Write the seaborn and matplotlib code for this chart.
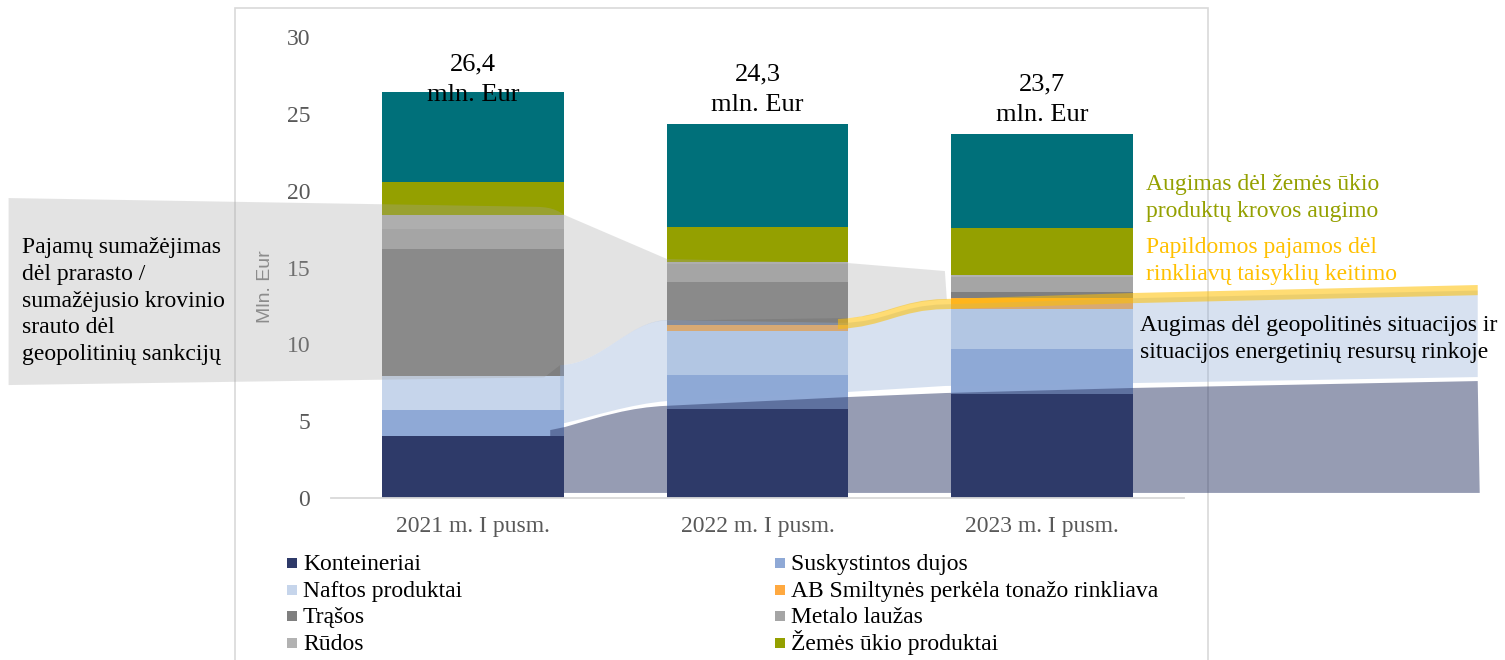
import numpy as np
import pandas as pd
import matplotlib
matplotlib.use("Agg")
import matplotlib.pyplot as plt
import seaborn as sns
from matplotlib.path import Path
from matplotlib.patches import PathPatch, Rectangle

# === DATA (mln. Eur) ===
periods = ["2021 m. I pusm.", "2022 m. I pusm.", "2023 m. I pusm."]
konteineriai = [4.03, 5.79, 6.77]
suskystintos_dujos = [1.70, 2.21, 2.92]
naftos_produktai = [2.21, 2.87, 2.60]
smiltynes_rinkliava = [0.00, 0.40, 0.70]
trasos = [8.26, 2.80, 0.40]
metalo_lauzas = [1.30, 1.19, 1.00]
rudos = [0.91, 0.10, 0.10]
zemes_ukio = [2.13, 2.30, 3.06]
kiti = [5.85, 6.67, 6.13]

layer_names = ["Konteineriai", "Suskystintos dujos", "Naftos produktai",
               "AB Smiltynės perkėla tonažo rinkliava", "Trąšos", "Metalo laužas",
               "Rūdos", "Žemės ūkio produktai", "Kiti"]
layer_values = [konteineriai, suskystintos_dujos, naftos_produktai, smiltynes_rinkliava,
                trasos, metalo_lauzas, rudos, zemes_ukio, kiti]
layer_colors = ["#2E3A69", "#8FA9D6", "#C6D5EB", "#FFA940", "#7F7F7F",
                "#A5A5A5", "#B2B2B2", "#94A000", "#00707A"]

note_left = "Pajamų sumažėjimas\ndėl prarasto /\nsumažėjusio krovinio\nsrauto dėl\ngeopolitinių sankcijų"
note_agri = "Augimas dėl žemės ūkio\nproduktų krovos augimo"
note_fees = "Papildomos pajamos dėl\nrinkliavų taisyklių keitimo"
note_geo = "Augimas dėl geopolitinės situacijos ir\nsituacijos energetinių resursų rinkoje"

# === STYLE ===
sns.set_style("white")
plt.rcParams["font.family"] = ["Liberation Serif", "DejaVu Serif"]
W, H = 1505, 660

fig = plt.figure(figsize=(W / 100, H / 100), dpi=100)
ax = fig.add_axes([331 / W, 1 - 498 / H, 853 / W, 461 / H])

# chart area frame
fig.add_artist(Rectangle((235 / W, -0.05), (1208 - 235) / W, 1.05 - 8 / H,
                         transform=fig.transFigure, fill=False,
                         edgecolor="#D9D9D9", lw=1.2, zorder=0))

# === STACKED BARS (cumulative, drawn top layer first) ===
df = pd.DataFrame(dict(zip(layer_names, layer_values)), index=periods)
cum = df.cumsum(axis=1)
for name, color in reversed(list(zip(layer_names, layer_colors))):
    sns.barplot(x=periods, y=cum[name].values, color=color, width=0.64,
                saturation=1, errorbar=None, linewidth=0, ax=ax, zorder=2)

totals = df.sum(axis=1).values
label_y = np.minimum(totals + 2.25, 27.2)
for i, (t, ly) in enumerate(zip(totals, label_y)):
    ax.text(i, ly, f"{t:.1f}".replace(".", ",") + "\nmln. Eur", ha="center", va="center",
            fontsize=19, linespacing=1.5, color="black", zorder=6)

ax.set_ylim(0, 30)
ax.set_yticks(range(0, 31, 5))
ax.set_xlabel("")
ax.set_ylabel("")
ax.tick_params(axis="x", length=0, pad=13, labelsize=17, labelcolor="#595959")
ax.tick_params(axis="y", length=0, pad=15, labelsize=17, labelcolor="#595959")
sns.despine(ax=ax, left=True)
ax.spines["bottom"].set_color("#D9D9D9")
ax.spines["bottom"].set_linewidth(1.3)

fig.text(265 / W, 1 - 287 / H, "Mln. Eur", rotation=90, ha="center", va="center",
         fontsize=14, color="#8C8C8C", family=["Liberation Sans", "DejaVu Sans"])

# === FLOW CALLOUT SHAPES ===
M, L, C, Z = Path.MOVETO, Path.LINETO, Path.CURVE4, Path.CLOSEPOLY


def band(steps, color, alpha, z=3):
    codes = [s[0] for s in steps]
    verts = [s[1] for s in steps]
    ax.add_patch(PathPatch(Path(verts, codes), facecolor=color, edgecolor="none",
                           alpha=alpha, zorder=z, clip_on=False))


band([(M, (-1.634, 19.52)), (L, (0.22, 18.95)),
      (C, (0.29, 18.93)), (C, (0.30, 18.6)), (C, (0.33, 18.35)),
      (L, (0.682, 15.55)), (L, (1.318, 15.29)), (L, (1.659, 14.77)),
      (L, (1.666, 12.90)),
      (C, (1.50, 12.85)), (C, (1.45, 11.80)), (C, (1.318, 11.71)),
      (L, (0.682, 11.55)),
      (C, (0.55, 11.55)), (C, (0.45, 8.70)), (C, (0.306, 8.65)),
      (L, (0.25, 7.85)), (L, (-1.634, 7.35)), (Z, (-1.634, 7.35))],
     "#A5A5A5", 0.30)

band([(M, (0.306, 8.65)),
      (C, (0.45, 8.70)), (C, (0.55, 11.55)), (C, (0.682, 11.58)),
      (L, (1.30, 11.40)),
      (C, (1.45, 11.45)), (C, (1.50, 12.55)), (C, (1.659, 12.60)),
      (L, (2.32, 13.0)), (L, (3.533, 13.5)),
      (L, (3.533, 7.87)), (L, (2.32, 7.48)), (L, (1.659, 7.29)),
      (L, (1.318, 6.90)), (L, (0.682, 6.31)),
      (C, (0.55, 6.10)), (C, (0.42, 5.30)), (C, (0.323, 4.88)),
      (L, (0.306, 4.88)), (Z, (0.306, 4.88))],
     "#8EAAD6", 0.35)

band([(M, (0.271, 0.33)), (L, (0.271, 4.42)), (L, (0.323, 4.62)),
      (C, (0.45, 5.30)), (C, (0.55, 5.90)), (C, (0.682, 6.0)),
      (L, (1.318, 6.57)), (L, (1.659, 6.83)), (L, (2.32, 7.16)),
      (L, (3.533, 7.61)), (L, (3.54, 0.33)), (Z, (3.54, 0.33))],
     "#2E3A69", 0.50)

band([(M, (1.283, 11.65)),
      (C, (1.45, 11.80)), (C, (1.50, 12.90)), (C, (1.659, 12.95)),
      (L, (2.32, 13.34)), (L, (3.533, 13.86)), (L, (3.533, 13.20)),
      (L, (2.32, 12.68)), (L, (1.659, 12.29)),
      (C, (1.50, 12.25)), (C, (1.45, 11.15)), (C, (1.283, 10.99)),
      (Z, (1.283, 10.99))],
     "#FFC000", 0.55, z=4)

# === NOTES ===
note_kw = dict(ha="left", va="center", fontsize=17, linespacing=1.37, zorder=6)
fig.text(22 / W, 1 - 301 / H, note_left, color="black", **note_kw)
fig.text(1146 / W, 1 - 198 / H, note_agri, color="#94A000", **note_kw)
fig.text(1146 / W, 1 - 261 / H, note_fees, color="#FFC000", **note_kw)
fig.text(1140 / W, 1 - 339 / H, note_geo, color="black", **note_kw)

# === LEGEND (two columns, filled row by row, baselines aligned) ===
col_x = [287, 775]
row_base = 570
row_step = 26.7
for k, (name, color) in enumerate(zip(layer_names[:8], layer_colors[:8])):
    r, c = divmod(k, 2)
    base = row_base + r * row_step
    fig.add_artist(Rectangle((col_x[c] / W, 1 - (base - 2) / H), 10 / W, 10 / H,
                             transform=fig.transFigure, facecolor=color,
                             edgecolor="none", zorder=6))
    fig.text((col_x[c] + 16) / W, 1 - base / H, name, ha="left", va="baseline",
             fontsize=17, color="black", zorder=6)

fig.savefig("out.png", dpi=100)
